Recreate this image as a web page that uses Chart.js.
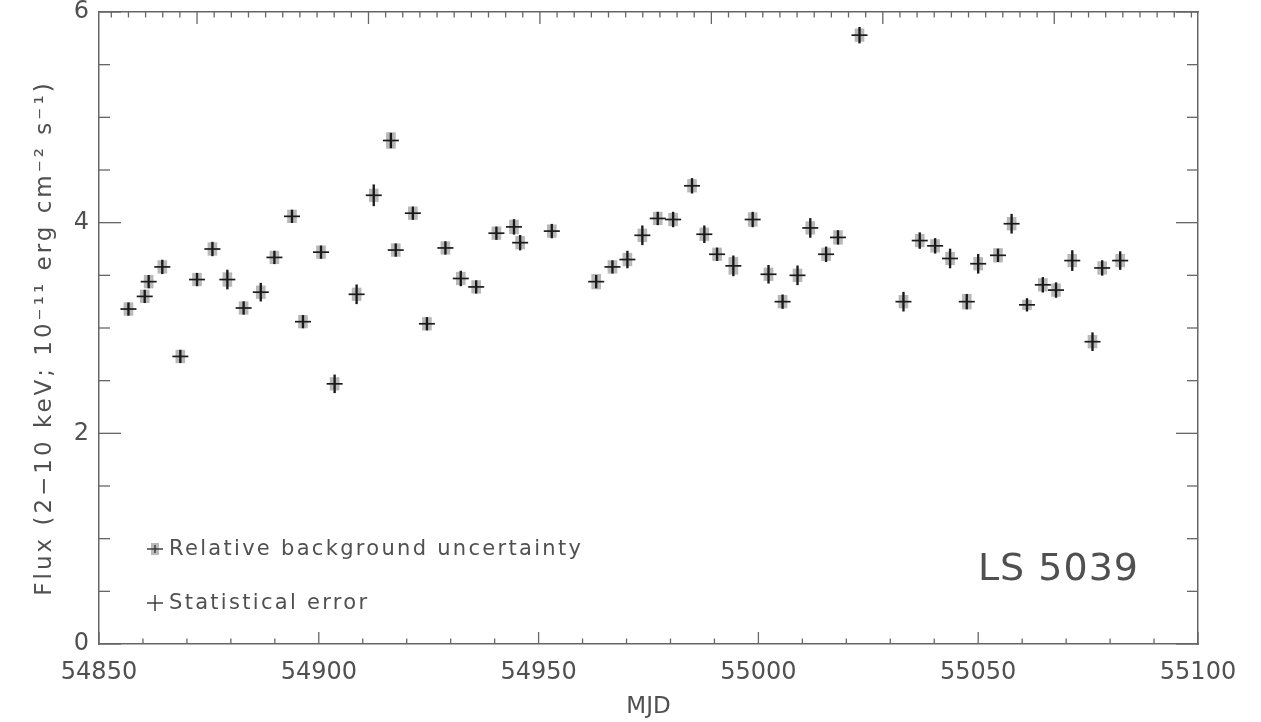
<!DOCTYPE html>
<html>
<head>
<meta charset="utf-8">
<script src="https://cdn.jsdelivr.net/npm/chart.js@4.4.0/dist/chart.umd.min.js"></script>
<style>
  html, body { margin: 0; padding: 0; background: #fff; }
  #wrap { width: 1261px; height: 722px; }
</style>
</head>
<body>
<div id="wrap"><canvas id="lightCurve"></canvas></div>
<script>
// light curve of LS 5039
const mjd = [54856.7, 54860.4, 54861.3, 54864.4, 54868.5, 54872.3, 54875.8, 54879.2, 54882.9, 54886.8,
             54889.9, 54893.9, 54896.4, 54900.5, 54903.6, 54908.6, 54912.5, 54916.4, 54917.5, 54921.4,
             54924.6, 54928.8, 54932.3, 54935.8, 54940.4, 54944.4, 54945.8, 54953.0, 54963.1, 54966.8,
             54970.2, 54973.6, 54977.1, 54980.6, 54984.9, 54987.7, 54990.6, 54994.3, 54998.7, 55002.3,
             55005.5, 55008.9, 55011.8, 55015.4, 55018.1, 55023.0, 55033.0, 55036.7, 55040.2, 55043.6,
             55047.4, 55050.0, 55054.5, 55057.6, 55061.1, 55064.7, 55067.7, 55071.4, 55076.0, 55078.2,
             55082.3];
const flux = [3.18, 3.30, 3.44, 3.58, 2.73, 3.46, 3.75, 3.46, 3.19, 3.34,
              3.67, 4.06, 3.06, 3.72, 2.47, 3.32, 4.26, 4.78, 3.74, 4.09,
              3.04, 3.76, 3.47, 3.39, 3.90, 3.96, 3.81, 3.92, 3.44, 3.58,
              3.65, 3.88, 4.04, 4.03, 4.35, 3.89, 3.70, 3.59, 4.03, 3.51,
              3.25, 3.50, 3.95, 3.70, 3.86, 5.78, 3.25, 3.83, 3.78, 3.66,
              3.25, 3.61, 3.69, 3.99, 3.22, 3.41, 3.36, 3.64, 2.87, 3.57,
              3.64];
// statistical error (half length)
const statErr = [0.06, 0.06, 0.06, 0.065, 0.06, 0.06, 0.065, 0.09, 0.06, 0.085,
                 0.06, 0.06, 0.06, 0.06, 0.085, 0.09, 0.1, 0.07, 0.06, 0.06,
                 0.06, 0.06, 0.07, 0.06, 0.06, 0.07, 0.07, 0.065, 0.06, 0.06,
                 0.08, 0.09, 0.06, 0.07, 0.07, 0.08, 0.06, 0.095, 0.07, 0.085,
                 0.065, 0.09, 0.09, 0.07, 0.065, 0.075, 0.09, 0.075, 0.07, 0.09,
                 0.07, 0.09, 0.06, 0.09, 0.06, 0.07, 0.07, 0.095, 0.085, 0.07,
                 0.085];
// relative background uncertainty (half height)
const bgErr = [0.06, 0.06, 0.06, 0.06, 0.06, 0.06, 0.06, 0.065, 0.06, 0.06,
               0.06, 0.06, 0.06, 0.06, 0.06, 0.06, 0.06, 0.075, 0.06, 0.06,
               0.06, 0.06, 0.06, 0.06, 0.06, 0.065, 0.06, 0.06, 0.07, 0.06,
               0.06, 0.06, 0.06, 0.06, 0.06, 0.06, 0.06, 0.08, 0.065, 0.06,
               0.06, 0.06, 0.06, 0.06, 0.065, 0.06, 0.06, 0.06, 0.06, 0.06,
               0.07, 0.06, 0.065, 0.06, 0.045, 0.06, 0.06, 0.06, 0.06, 0.06,
               0.06];

const xRange = [54850, 55100];
const yRange = [0, 6];
const xLabelStep = 50;
const yLabelStep = 2;
// top axis: orbital cycles
const orbitPeriod = 3.9;
const orbitEpoch = 54872.3;

const FONT = '"DejaVu Sans", sans-serif';
const INK = '#505050';
const AXIS = '#666666';
const yTitle = 'Flux (2\u221210 keV; 10\u207B\u00B9\u00B9 erg cm\u207B\u00B2 s\u207B\u00B9)';

const bgBoxes = mjd.map((x, i) => ({ x: x, y: [flux[i] - bgErr[i], flux[i] + bgErr[i]] }));
const statBars = mjd.map((x, i) => ({ x: x, y: [flux[i] - statErr[i], flux[i] + statErr[i]] }));
const centres = mjd.map((x, i) => ({ x: x, y: flux[i] }));

const noPad = s => { s.paddingTop = 0; s.paddingBottom = 0; s.paddingLeft = 0; s.paddingRight = 0; };

// tick marks pointing into the plot, y title, in-plot legend and source name
const frameDecor = {
  id: 'frameDecor',
  afterDraw(chart) {
    const ctx = chart.ctx;
    const { left, right, top, bottom } = chart.chartArea;
    const seg = (x1, y1, x2, y2) => { ctx.beginPath(); ctx.moveTo(x1, y1); ctx.lineTo(x2, y2); ctx.stroke(); };
    ctx.save();
    ctx.strokeStyle = AXIS;
    ctx.lineWidth = 1.3;

    const sx = chart.scales.x;
    sx.ticks.forEach(t => {
      const px = sx.getPixelForValue(t.value);
      seg(px, bottom, px, bottom - (t.value % xLabelStep === 0 ? 12 : 5.5));
    });
    const st = chart.scales.xTop;
    st.ticks.forEach(t => {
      const px = st.getPixelForValue(t.value);
      seg(px, top, px, top + (t.major ? 12 : 5.5));
    });
    const sy = chart.scales.y;
    sy.ticks.forEach(t => {
      const py = sy.getPixelForValue(t.value);
      const len = Math.abs(t.value % yLabelStep) < 1e-9 ? 22 : 11;
      seg(left, py, left + len, py);
      seg(right, py, right - len, py);
    });

    // y axis title
    ctx.save();
    ctx.translate(45, (top + bottom) / 2 + 10);
    ctx.rotate(-Math.PI / 2);
    ctx.fillStyle = INK;
    ctx.textAlign = 'center';
    ctx.textBaseline = 'middle';
    ctx.font = '23px ' + FONT;
    ctx.letterSpacing = '3px';
    ctx.fillText(yTitle, 0, 0);
    ctx.restore();

    // legend
    ctx.fillStyle = '#b9b9b9';
    ctx.fillRect(151, 543, 8, 12);
    ctx.strokeStyle = '#333';
    ctx.lineWidth = 1.4;
    seg(147, 549, 163, 549);
    seg(155, 545, 155, 553);
    seg(147, 603, 163, 603);
    seg(155, 595, 155, 611);

    ctx.fillStyle = INK;
    ctx.textBaseline = 'middle';
    ctx.textAlign = 'left';
    ctx.font = '21px ' + FONT;
    ctx.letterSpacing = '2.3px';
    ctx.fillText('Relative background uncertainty', 169, 550);
    ctx.fillText('Statistical error', 169, 604);

    ctx.textAlign = 'right';
    ctx.font = '38px ' + FONT;
    ctx.letterSpacing = '1px';
    ctx.fillText('LS 5039', 1139, 570);
    ctx.restore();
  }
};

const ctx = document.getElementById('lightCurve').getContext('2d');
const chart = new Chart(ctx, {
  type: 'scatter',
  data: {
    datasets: [
      {
        type: 'bar',
        label: 'Relative background uncertainty',
        data: bgBoxes,
        backgroundColor: '#b8b8b8',
        barThickness: 9,
        grouped: false,
        order: 3
      },
      {
        type: 'bar',
        label: 'Statistical error',
        data: statBars,
        backgroundColor: '#1a1a1a',
        barThickness: 1.7,
        grouped: false,
        order: 2
      },
      {
        type: 'scatter',
        label: 'Statistical error (x)',
        data: centres,
        pointStyle: 'line',
        radius: 8,
        borderColor: '#1a1a1a',
        borderWidth: 1.7,
        order: 1
      }
    ]
  },
  options: {
    responsive: true,
    maintainAspectRatio: false,
    animation: false,
    layout: { padding: 0 },
    plugins: {
      legend: { display: false },
      tooltip: { enabled: false }
    },
    scales: {
      x: {
        type: 'linear',
        position: 'bottom',
        min: xRange[0],
        max: xRange[1],
        offset: false,
        grid: { display: true, drawOnChartArea: false, drawTicks: false },
        border: { display: true, color: AXIS, width: 1.5 },
        ticks: {
          stepSize: 10,
          autoSkip: false,
          maxRotation: 0,
          padding: 14,
          color: INK,
          font: { family: FONT, size: 24 },
          callback: v => (v % xLabelStep === 0 ? String(v) : '')
        },
        title: {
          display: true,
          text: 'MJD',
          color: INK,
          font: { family: FONT, size: 23 },
          padding: { top: 0, bottom: 1 }
        },
        afterFit: s => { s.height = 78; noPad(s); }
      },
      xTop: {
        type: 'linear',
        position: 'top',
        min: xRange[0],
        max: xRange[1],
        offset: false,
        grid: { display: true, drawOnChartArea: false, drawTicks: false },
        border: { display: true, color: AXIS, width: 1.5 },
        ticks: { display: false },
        afterBuildTicks: s => {
          const list = [];
          for (let k = -10; k <= 70; k++) {
            const v = orbitEpoch + k * orbitPeriod;
            if (v >= xRange[0] && v <= xRange[1]) list.push({ value: v, major: k % 10 === 0 });
          }
          s.ticks = list;
        },
        afterFit: s => { s.height = 12; noPad(s); }
      },
      y: {
        type: 'linear',
        position: 'left',
        min: yRange[0],
        max: yRange[1],
        grid: { display: true, drawOnChartArea: false, drawTicks: false },
        border: { display: true, color: AXIS, width: 1.5 },
        ticks: {
          stepSize: 0.5,
          autoSkip: false,
          padding: 10,
          color: INK,
          font: { family: FONT, size: 24 },
          callback: v => (Math.abs(v % yLabelStep) < 1e-9 ? String(v) : '')
        },
        afterFit: s => { s.width = 99; noPad(s); }
      },
      yRight: {
        type: 'linear',
        position: 'right',
        min: yRange[0],
        max: yRange[1],
        grid: { display: true, drawOnChartArea: false, drawTicks: false },
        border: { display: true, color: AXIS, width: 1.5 },
        ticks: { display: false },
        afterFit: s => { s.width = 63; noPad(s); }
      }
    }
  },
  plugins: [frameDecor]
});
</script>
</body>
</html>
